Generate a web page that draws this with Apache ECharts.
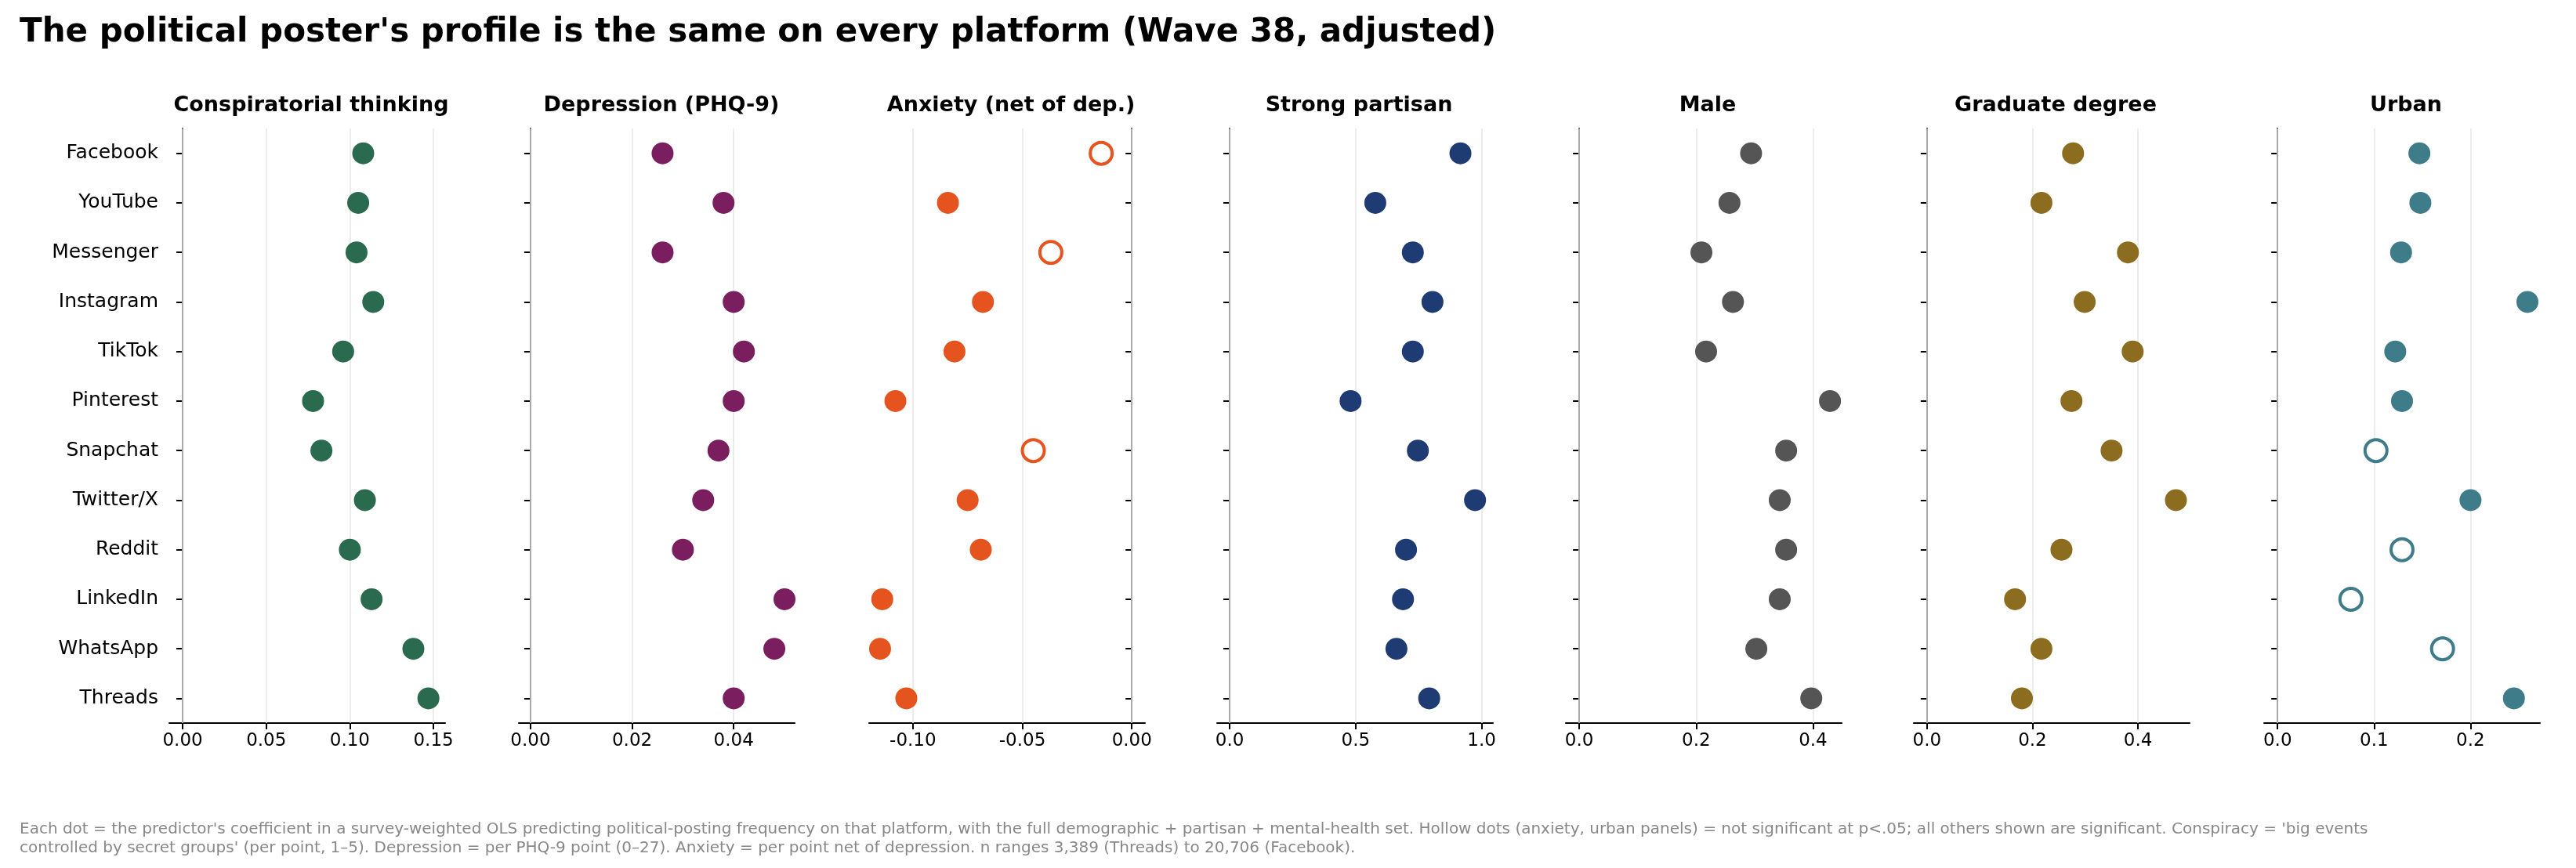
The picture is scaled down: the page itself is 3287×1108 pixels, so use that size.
<!DOCTYPE html>
<html>
<head>
<meta charset="utf-8">
<script src="https://cdn.jsdelivr.net/npm/echarts@6/dist/echarts.min.js"></script>
<style>
  html, body { margin: 0; padding: 0; background: #fff; }
  #main { width: 3287px; height: 1108px; }
</style>
</head>
<body>
<div id="main"></div>
<script>
// platforms, top to bottom
var platforms = ['Facebook', 'YouTube', 'Messenger', 'Instagram', 'TikTok', 'Pinterest',
  'Snapchat', 'Twitter/X', 'Reddit', 'LinkedIn', 'WhatsApp', 'Threads'];

var panelTitles = ['Conspiratorial thinking', 'Depression (PHQ-9)', 'Anxiety (net of dep.)',
  'Strong partisan', 'Male', 'Graduate degree', 'Urban'];

var conspiracy = [0.108, 0.105, 0.104, 0.114, 0.096, 0.078, 0.083, 0.109, 0.100, 0.113, 0.138, 0.147];
var depression = [0.026, 0.038, 0.026, 0.040, 0.042, 0.040, 0.037, 0.034, 0.030, 0.050, 0.048, 0.040];
var anxiety = [-0.014, -0.084, -0.037, -0.068, -0.081, -0.108, -0.045, -0.075, -0.069, -0.114, -0.115, -0.103];
var partisan = [0.916, 0.578, 0.727, 0.805, 0.727, 0.480, 0.747, 0.974, 0.700, 0.688, 0.662, 0.792];
var male = [0.294, 0.257, 0.209, 0.263, 0.217, 0.429, 0.354, 0.343, 0.354, 0.343, 0.303, 0.397];
var graduate = [0.277, 0.217, 0.381, 0.299, 0.390, 0.274, 0.350, 0.472, 0.255, 0.167, 0.217, 0.180];
var urban = [0.147, 0.148, 0.128, 0.259, 0.122, 0.129, 0.102, 0.200, 0.129, 0.076, 0.171, 0.245];

// significance (false = hollow dot)
var anxietySig = [false, true, false, true, true, true, false, true, true, true, true, true];
var urbanSig = [true, true, true, true, true, true, false, true, false, false, false, true];
var allSig = [true, true, true, true, true, true, true, true, true, true, true, true];

// tick labels per panel
var ticks = [
  [0, 0.05, 0.10, 0.15],
  [0, 0.02, 0.04],
  [-0.10, -0.05, 0],
  [0, 0.5, 1.0],
  [0, 0.2, 0.4],
  [0, 0.2, 0.4],
  [0, 0.1, 0.2]
];
var decimals = [2, 2, 2, 1, 1, 1, 1];
var ranges = [[-0.008, 0.157], [-0.0023, 0.052], [-0.12, 0.006], [-0.05, 1.045],
  [-0.023, 0.449], [-0.025, 0.498], [-0.014, 0.272]];

var seriesData = [conspiracy, depression, anxiety, partisan, male, graduate, urban];
var sigData = [allSig, allSig, anxietySig, allSig, allSig, allSig, urbanSig];
var colors = ['#2a6a4f', '#7b1e5f', '#e5541f', '#1f3b73', '#555555', '#8c6c1e', '#3e7c89'];

var chart = echarts.init(document.getElementById('main'));

var lefts = [103, 316, 529, 741, 953, 1165, 1378];
var scale = 3287 / 1568;
var grids = [], xAxes = [], yAxes = [], series = [];
var titles = [{
  text: "The political poster's profile is the same on every platform (Wave 38, adjusted)",
  left: 20, top: 16,
  textStyle: { fontSize: 42, fontWeight: 'bold', color: '#000', fontFamily: 'DejaVu Sans' }
}, {
  text: "Each dot = the predictor's coefficient in a survey-weighted OLS predicting political-posting frequency on that platform, with the full demographic + partisan + mental-health set. Hollow dots (anxiety, urban panels) = not significant at p<.05; all others shown are significant. Conspiracy = 'big events\ncontrolled by secret groups' (per point, 1–5). Depression = per PHQ-9 point (0–27). Anxiety = per point net of depression. n ranges 3,389 (Threads) to 20,706 (Facebook).",
  left: 20, top: 1042,
  textStyle: { fontSize: 20, fontWeight: 'normal', color: '#888', lineHeight: 24, fontFamily: 'DejaVu Sans' }
}];

for (var i = 0; i < 7; i++) {
  grids.push({
    left: Math.round(lefts[i] * scale),
    width: Math.round(168 * scale),
    top: Math.round(78 * scale),
    height: Math.round(362 * scale)
  });
  titles.push({
    text: panelTitles[i],
    left: Math.round((lefts[i] + 84) * scale), textAlign: 'center',
    top: 116,
    textStyle: { fontSize: 27, fontWeight: 'bold', color: '#000', fontFamily: 'DejaVu Sans' }
  });
  (function (d) {
    xAxes.push({
      type: 'value', gridIndex: i, min: ranges[i][0], max: ranges[i][1],
      axisLine: { show: true, onZero: false, lineStyle: { color: '#000', width: 2 } },
      axisTick: { show: true, customValues: ticks[i], length: 8, lineStyle: { color: '#000', width: 2 } },
      axisLabel: { customValues: ticks[i], fontSize: 23, color: '#000', margin: 12,
        formatter: function (v) { return v.toFixed(d); } },
      splitLine: { show: false }
    });
  })(decimals[i]);
  yAxes.push({
    type: 'category', gridIndex: i, data: platforms, inverse: true,
    axisLine: { show: true, lineStyle: { color: '#000', width: 2 } },
    axisTick: { show: true, length: 8, alignWithLabel: true, lineStyle: { color: '#000', width: 2 } },
    axisLabel: { show: i === 0, fontSize: 25, color: '#000', margin: 14 },
    splitLine: { show: false }
  });
  var pts = seriesData[i].map(function (v, k) {
    var sig = sigData[i][k];
    return {
      value: [v, platforms[k]],
      itemStyle: sig ? { color: colors[i], borderWidth: 0, opacity: 1 } :
        { color: '#fff', borderColor: colors[i], borderWidth: 4, opacity: 1 }
    };
  });
  var gridLines = ticks[i].filter(function (t) { return t !== 0; }).map(function (t) {
    return { xAxis: t, lineStyle: { color: '#e6e6e6', width: 1.5, type: 'solid' } };
  });
  gridLines.push({ xAxis: 0, lineStyle: { color: '#aaaaaa', width: 2, type: 'solid' } });
  series.push({
    type: 'scatter', xAxisIndex: i, yAxisIndex: i, data: pts,
    symbolSize: 28, z: 3, itemStyle: { opacity: 1 },
    markLine: { silent: true, symbol: 'none', label: { show: false }, z: 1, data: gridLines }
  });
}

chart.setOption({
  animation: false,
  title: titles,
  textStyle: { fontFamily: 'DejaVu Sans' },
  grid: grids, xAxis: xAxes, yAxis: yAxes, series: series
});
</script>
</body>
</html>
